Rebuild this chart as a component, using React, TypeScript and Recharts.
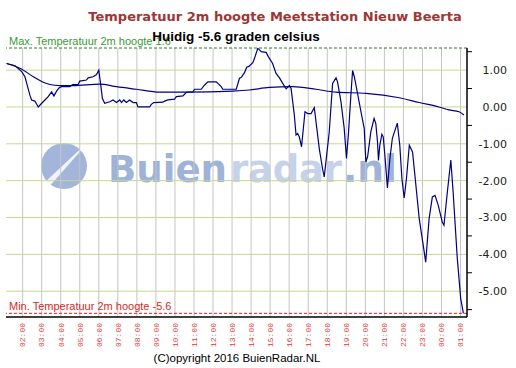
import React from 'react';
import { LineChart, Line, XAxis, YAxis, CartesianGrid, ReferenceLine } from 'recharts';

// hour ticks (02:00 today .. 01:00 tomorrow), x values are hours since 00:00 of day 1
const hourLabels = [
  '02:00', '03:00', '04:00', '05:00', '06:00', '07:00', '08:00', '09:00', '10:00', '11:00', '12:00', '13:00',
  '14:00', '15:00', '16:00', '17:00', '18:00', '19:00', '20:00', '21:00', '22:00', '23:00', '00:00', '01:00',
];
const hourTicks = hourLabels.map((_, i) => 2 + i);

const valueTicks = [1.5, 1, 0.5, 0, -0.5, -1, -1.5, -2, -2.5, -3, -3.5, -4, -4.5, -5, -5.5];
const gridValues = [1, 0, -1, -2, -3, -4, -5];

const maxTemp = 1.6;
const minTemp = -5.6;
const currentTemp = -5.6;

// measured temperature
const tempTimes = [
  1.16, 1.6, 1.95, 2.12, 2.38, 2.47, 2.64, 2.82, 3.0, 3.17,
  3.34, 3.52, 3.64, 3.78, 3.92, 4.04, 4.48, 4.62, 4.91, 5.0,
  5.35, 5.44, 5.7, 5.88, 6.0, 6.1, 6.19, 6.31, 6.58, 6.75,
  6.93, 7.1, 7.19, 7.31, 7.45, 7.62, 7.8, 7.97, 8.06, 8.67,
  8.76, 8.88, 9.37, 9.46, 9.63, 9.98, 10.07, 10.42, 10.6, 10.94,
  11.03, 11.38, 11.55, 11.73, 12.17, 12.43, 12.51, 13.22, 13.39, 13.48,
  13.65, 13.77, 13.88, 14.09, 14.18, 14.35, 14.44, 14.53, 14.79, 14.91,
  15.13, 15.31, 15.49, 15.66, 15.84, 16.01, 16.1, 16.27, 16.36, 16.44,
  16.53, 16.65, 16.83, 16.97, 17.15, 17.32, 17.58, 17.75, 17.84, 18.1,
  18.28, 18.46, 18.54, 18.72, 18.89, 19.01, 19.12, 19.24, 19.33, 19.42,
  19.59, 19.77, 19.94, 20.03, 20.12, 20.29, 20.46, 20.55, 20.64, 20.69,
  20.76, 20.87, 20.94, 21.04, 21.16, 21.29, 21.42, 21.56, 21.68, 21.81,
  21.92, 22.04, 22.16, 22.31, 22.48, 22.62, 22.83, 23.04, 23.17, 23.35,
  23.52, 23.66, 23.83, 24.04, 24.13, 24.31, 24.49, 24.61, 24.83, 25.01,
  25.15,
];
const tempValues = [
  1.18, 1.12, 0.96, 0.82, 0.32, 0.19, 0.16, 0.0, 0.1, 0.19,
  0.28, 0.41, 0.3, 0.43, 0.52, 0.55, 0.55, 0.61, 0.61, 0.7,
  0.73, 0.79, 0.82, 0.88, 1.0, 0.6, 0.23, 0.1, 0.14, 0.19,
  0.12, 0.19, 0.12, 0.19, 0.12, 0.19, 0.12, 0.12, 0.0, 0.0,
  0.07, 0.12, 0.13, 0.16, 0.19, 0.21, 0.28, 0.3, 0.4, 0.41,
  0.48, 0.48, 0.59, 0.68, 0.68, 0.55, 0.48, 0.48, 0.78, 0.8,
  0.93, 1.08, 1.1, 1.2, 1.32, 1.59, 1.55, 1.5, 1.48, 1.36,
  1.18, 0.91, 0.79, 0.64, 0.49, 0.58, 0.5, -0.22, -0.76, -0.72,
  -0.81, -1.08, -0.13, -0.18, -0.18, -0.02, -1.13, -1.67, -1.9, -0.7,
  0.64, 0.79, 0.68, 0.14, -0.58, -1.4, -0.67, 0.32, 0.99, 0.82,
  0.37, -0.13, -0.58, -1.49, -1.35, -0.67, -0.31, -0.45, -0.95, -1.45,
  -1.04, -0.74, -0.81, -1.4, -2.2, -1.4, -0.85, -0.63, -0.44, -1.04,
  -1.94, -2.47, -1.94, -1.04, -1.22, -1.94, -3.03, -3.75, -4.21, -3.03,
  -2.44, -2.4, -2.67, -3.12, -3.21, -2.3, -1.44, -2.3, -4.11, -5.2,
  -5.6,
];

// slow (average) curve
const avgTimes = [
  1.16, 1.86, 2.56, 3.08, 3.43, 3.95, 4.65, 6.05, 6.93, 7.97, 9.2, 10.6, 13.04,
  13.91, 14.96, 16.18, 17.41, 18.46, 20.03, 21.78, 22.83, 23.87, 24.39, 24.92, 25.18,
];
const avgValues = [
  1.18, 1.05, 0.82, 0.67, 0.61, 0.58, 0.58, 0.62, 0.55, 0.48, 0.4, 0.4, 0.43,
  0.46, 0.53, 0.55, 0.48, 0.4, 0.37, 0.25, 0.12, 0.0, -0.08, -0.13, -0.22,
];

const tempData = tempTimes.map((t, i) => ({ t, v: tempValues[i] }));
const avgData = avgTimes.map((t, i) => ({ t, v: avgValues[i] }));

const HourTick = (props: any) => {
  const { x, y, payload } = props;
  const label = hourLabels[hourTicks.indexOf(payload.value)];
  return (
    <text
      x={x}
      y={y}
      transform={`rotate(-90 ${x} ${y})`}
      textAnchor="end"
      dy="0.35em"
      fill="#d83a3a"
      fontSize={8}
      fontFamily="'Liberation Mono', monospace"
    >
      {label}
    </text>
  );
};

const ValueTick = (props: any) => {
  const { x, y, payload } = props;
  const v = payload.value;
  if (Number.isInteger(v)) {
    return (
      <text x={x + 40} y={y} dy="0.36em" textAnchor="end" fill="#222" fontSize={11} fontFamily="'DejaVu Sans', sans-serif">
        {v.toFixed(2)}
      </text>
    );
  }
  return <line x1={x} x2={x + 5} y1={y} y2={y} stroke="#000" />;
};

const refLabel = (text: string, color: string) => (props: any) => {
  const vb = props.viewBox;
  return (
    <text x={vb.x + 3} y={vb.y - 3} fill={color} fontSize={11} fontFamily="'Liberation Sans', Arial, sans-serif">
      {text}
    </text>
  );
};

const Watermark = () => (
  <svg width={516} height={368} style={{ position: 'absolute', left: 0, top: 0 }}>
    <circle cx={64} cy={166} r={23} fill="#a3b5da" />
    <path d="M 92 138 L 48 188 L 42 185 Z" fill="#ffffff" opacity={0.85} />
    <text x={108} y={182} fontSize={37} fontWeight="bold" fontFamily="'DejaVu Sans', sans-serif" fill="#9fb2d8" textLength={119} lengthAdjust="spacingAndGlyphs">
      Buien
    </text>
    <text x={230} y={182} fontSize={37} fontWeight="bold" fontFamily="'DejaVu Sans', sans-serif" fill="#c6d2ea" textLength={112} lengthAdjust="spacing">
      radar
    </text>
    <text x={343} y={182} fontSize={37} fontWeight="bold" fontFamily="'DejaVu Sans', sans-serif" fill="#9fb2d8" textLength={54} lengthAdjust="spacingAndGlyphs">
      .nl
    </text>
  </svg>
);

const Titles = () => (
  <svg width={516} height={368} style={{ position: 'absolute', left: 0, top: 0, pointerEvents: 'none' }}>
    <text x={275} y={21} textAnchor="middle" fontSize={13} fontWeight="bold" fill="#9e3636" fontFamily="'DejaVu Sans', Verdana, sans-serif">
      Temperatuur 2m hoogte Meetstation Nieuw Beerta
    </text>
    <text x={236} y={41} textAnchor="middle" fontSize={13.5} fontWeight="bold" fill="#000" fontFamily="'Liberation Sans', Arial, sans-serif">
      {`Huidig ${currentTemp.toFixed(1)} graden celsius`}
    </text>
    <text x={237} y={362} textAnchor="middle" fontSize={11.5} fill="#000" fontFamily="'Liberation Sans', Arial, sans-serif">
      (C)opyright 2016 BuienRadar.NL
    </text>
  </svg>
);

export default function App() {
  return (
    <div style={{ position: 'absolute', left: 0, top: 0, width: 516, height: 368, background: '#fff', overflow: 'hidden' }}>
      <Watermark />
      <div style={{ position: 'absolute', left: 0, top: 0 }}>
        <LineChart width={516} height={368} margin={{ top: 48, right: 0, bottom: 0, left: 6 }}>
          <CartesianGrid horizontal={false} stroke="#c4c4c4" verticalValues={hourTicks} />
          <CartesianGrid vertical={false} stroke="#c3da90" horizontalValues={gridValues} />
          <XAxis
            dataKey="t"
            type="number"
            domain={[1.125, 25.34]}
            allowDataOverflow
            ticks={hourTicks}
            interval={0}
            height={51}
            tickSize={0}
            tickMargin={6}
            tickLine={false}
            axisLine={{ stroke: '#000', strokeWidth: 1.5 }}
            tick={<HourTick />}
          />
          <YAxis
            orientation="right"
            type="number"
            domain={[-5.7, 1.6]}
            allowDataOverflow
            ticks={valueTicks}
            interval={0}
            width={49}
            tickSize={0}
            tickMargin={0}
            tickLine={false}
            axisLine={{ stroke: '#000', strokeWidth: 1.5 }}
            tick={<ValueTick />}
          />
          <YAxis
            yAxisId="left"
            orientation="left"
            type="number"
            domain={[-5.7, 1.6]}
            width={0}
            tick={false}
            tickLine={false}
            axisLine={{ stroke: '#000', strokeWidth: 1.5 }}
          />
          <ReferenceLine
            y={maxTemp}
            stroke="#2c7f2c"
            strokeDasharray="3 2"
            label={refLabel(`Max. Temperatuur 2m hoogte ${maxTemp.toFixed(1)}`, '#3a993a')}
          />
          <ReferenceLine
            y={minTemp}
            stroke="#d02020"
            strokeDasharray="3 2"
            label={refLabel(`Min. Temperatuur 2m hoogte ${minTemp.toFixed(1)}`, '#d42a2a')}
          />
          <Line
            data={avgData}
            dataKey="v"
            type="monotone"
            stroke="#000080"
            strokeWidth={1.2}
            dot={false}
            isAnimationActive={false}
          />
          <Line
            data={tempData}
            dataKey="v"
            type="linear"
            stroke="#000080"
            strokeWidth={1.2}
            dot={false}
            isAnimationActive={false}
          />
        </LineChart>
      </div>
      <Titles />
    </div>
  );
}
